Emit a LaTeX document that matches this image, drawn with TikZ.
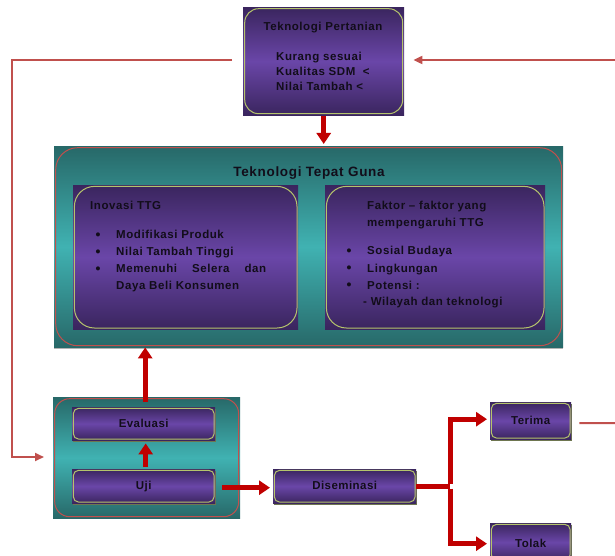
\documentclass[tikz,border=0pt]{standalone}
\usepackage{fontspec}
\setmainfont{Liberation Sans}
\newfontfamily\spaced[LetterSpace=5]{Liberation Sans}
\newfontfamily\spacedsm[LetterSpace=4]{Liberation Sans}
\usetikzlibrary{arrows.meta,calc,shadows}
\definecolor{pdark}{HTML}{3A255E}
\definecolor{pmid}{HTML}{6A46A8}
\definecolor{tdark}{HTML}{276868}
\definecolor{tmid}{HTML}{40B2B2}
\definecolor{ygreen}{HTML}{B5C46C}
\definecolor{rline}{HTML}{C0504D}
\definecolor{rthick}{HTML}{C00000}
\definecolor{txt}{HTML}{120D1A}
\definecolor{shadowc}{HTML}{6E7650}
\tikzset{
  rborder/.style n args={3}{path picture={\draw[draw=#1, line width=1pt, rounded corners=#2]
      ([shift={(#3,-#3)}]path picture bounding box.north west) rectangle
      ([shift={(-#3,#3)}]path picture bounding box.south east);}},
  pbox/.style={rectangle, inner sep=0pt, anchor=north west,
      top color=pdark, bottom color=pdark, middle color=pmid},
  tbox/.style={rectangle, inner sep=0pt, anchor=north west,
      top color=tdark, bottom color=tdark, middle color=tmid},
  smallbox/.style={pbox, rborder={ygreen}{5pt}{1.2pt}, minimum height=33pt,
      font=\spacedsm\fontsize{11.5}{13}\selectfont\bfseries,
      text=txt, text height=8pt, text depth=1pt,
      drop shadow={shadow xshift=0.8pt, shadow yshift=-2pt, fill=shadowc, opacity=1}},
  t11/.style={font=\spaced\fontsize{11.5}{15}\selectfont\bfseries, text=txt, inner sep=0pt},
  t13/.style={font=\spaced\fontsize{13.5}{15}\selectfont\bfseries, text=txt, inner sep=0pt},
  bul/.style={font=\fontsize{14}{15}\selectfont\bfseries, text=txt, inner sep=0pt, anchor=base},
  bigline/.style={draw=rthick, line width=5pt},
  bigarrow/.style={bigline, -{Triangle[width=14pt,length=11pt]}},
  fb/.style={draw=rline, line width=2pt},
  fbarrow/.style={fb, -{Triangle[width=8pt,length=9pt]}},
}
\begin{document}
\begin{tikzpicture}[x=1pt,y=-1pt]
\useasboundingbox (0,0) rectangle (615,556);
% top box
\node[pbox, rborder={ygreen}{14pt}{1.5pt}, minimum width=161pt, minimum height=108pt] (tp) at (243,7) {};
\node[t11, anchor=base] (tpt) at (323,31) {Teknologi Pertanian};
\node[t11, anchor=base west] (tp1) at (276,61) {Kurang sesuai};
\node[t11, anchor=base west] (tp2) at (276,76) {Kualitas SDM\ \ <};
\node[t11, anchor=base west] (tp3) at (276,91) {Nilai Tambah <};
% TTG
\node[tbox, rborder={rline}{22pt}{1.5pt}, minimum width=509pt, minimum height=201pt,
      drop shadow={shadow xshift=0pt, shadow yshift=-2pt, fill=gray!60, opacity=1}] (ttg) at (54,146) {};
\node[t13, anchor=base] (ttgt) at (309,176) {Teknologi Tepat Guna};
\node[pbox, rborder={ygreen}{20pt}{1.2pt}, minimum width=225pt, minimum height=144pt] (inl) at (73,185) {};
\node[pbox, rborder={ygreen}{20pt}{1.2pt}, minimum width=220pt, minimum height=144pt] (inr) at (325,185) {};
% left text
\node[t11, anchor=base west] (l0) at (90,209) {Inovasi TTG};
\node[bul] (lb1) at (98,239) {\textbullet};
\node[bul] (lb2) at (98,256) {\textbullet};
\node[bul] (lb3) at (98,273) {\textbullet};
\node[t11, anchor=base west] (l1) at (116,238.5) {Modifikasi Produk};
\node[t11, anchor=base west] (l2) at (116,255.5) {Nilai Tambah Tinggi};
\node[t11, anchor=base west] (l3) at (116,272.5) {\makebox[150pt][s]{Memenuhi Selera dan}};
\node[t11, anchor=base west] (l4) at (116,289) {Daya Beli Konsumen};
% right text
\node[t11, anchor=base west] (r0) at (367,209) {Faktor \textendash\ faktor yang};
\node[t11, anchor=base west] (r1) at (367,226) {mempengaruhi TTG};
\node[bul] (rb1) at (349,255) {\textbullet};
\node[bul] (rb2) at (349,272.5) {\textbullet};
\node[bul] (rb3) at (349,289.5) {\textbullet};
\node[t11, anchor=base west] (r2) at (367,254.5) {Sosial Budaya};
\node[t11, anchor=base west] (r3) at (367,272) {Lingkungan};
\node[t11, anchor=base west] (r4) at (367,289) {Potensi :};
\node[t11, anchor=base west] (r5) at (363,305.5) {- Wilayah dan teknologi};
% bottom container
\node[tbox, rborder={rline}{15pt}{1.5pt}, minimum width=187pt, minimum height=121pt] (bot) at (53,397) {};
\node[smallbox, minimum width=143pt] (eval) at (72,407) {Evaluasi};
\node[smallbox, minimum width=143pt, minimum height=34pt] (uji) at (72,469) {Uji};
\node[smallbox, minimum width=143pt, minimum height=34pt] (dis) at (273,469) {Diseminasi};
\node[smallbox, minimum width=81pt, minimum height=37pt] (terima) at (490,402) {Terima};
\node[smallbox, minimum width=81pt, minimum height=38pt, text height=10pt, text depth=0pt] (tolak) at (490,523) {Tolak};
% thick arrows
\draw[bigarrow, shorten <=1pt, shorten >=2pt] (tp.south) -- (tp.south |- ttg.north);
\draw[bigarrow, shorten <=-5pt] ([xshift=-1.5pt]bot.north) -- ([xshift=-1.5pt]bot.north |- ttg.south);
\draw[bigarrow, shorten <=2pt, shorten >=3pt] ([xshift=2pt]uji.north) -- ([xshift=2pt]eval.south);
\draw[bigarrow, shorten <=7pt, shorten >=3pt] ([yshift=-1.5pt]uji.east) -- ([yshift=-1.5pt]dis.east -| dis.west);
\coordinate (br) at (450,486);
\draw[bigline] (dis.east |- br) -- (br);
\draw[bigarrow, shorten >=3pt] ([yshift=2.5pt]br) |- ([yshift=1.5pt]terima.west);
\draw[bigarrow, shorten >=3pt] ([yshift=-2.5pt]br) |- ([yshift=-1.5pt]tolak.west);
% feedback lines
\coordinate (fbc) at (12,457);
\coordinate (rin) at (616,60);
\coordinate (tout) at (616,423);
\draw[fbarrow, shorten >=9pt] ([shift={(-11pt,1.5pt)}]tp.west) -| (fbc) -- (fbc -| bot.west);
\draw[fbarrow, shorten >=9pt] (rin) -- (rin -| tp.east);
\draw[fb] ([shift={(8pt,-2.5pt)}]terima.east) -- (tout);
\end{tikzpicture}
\end{document}
